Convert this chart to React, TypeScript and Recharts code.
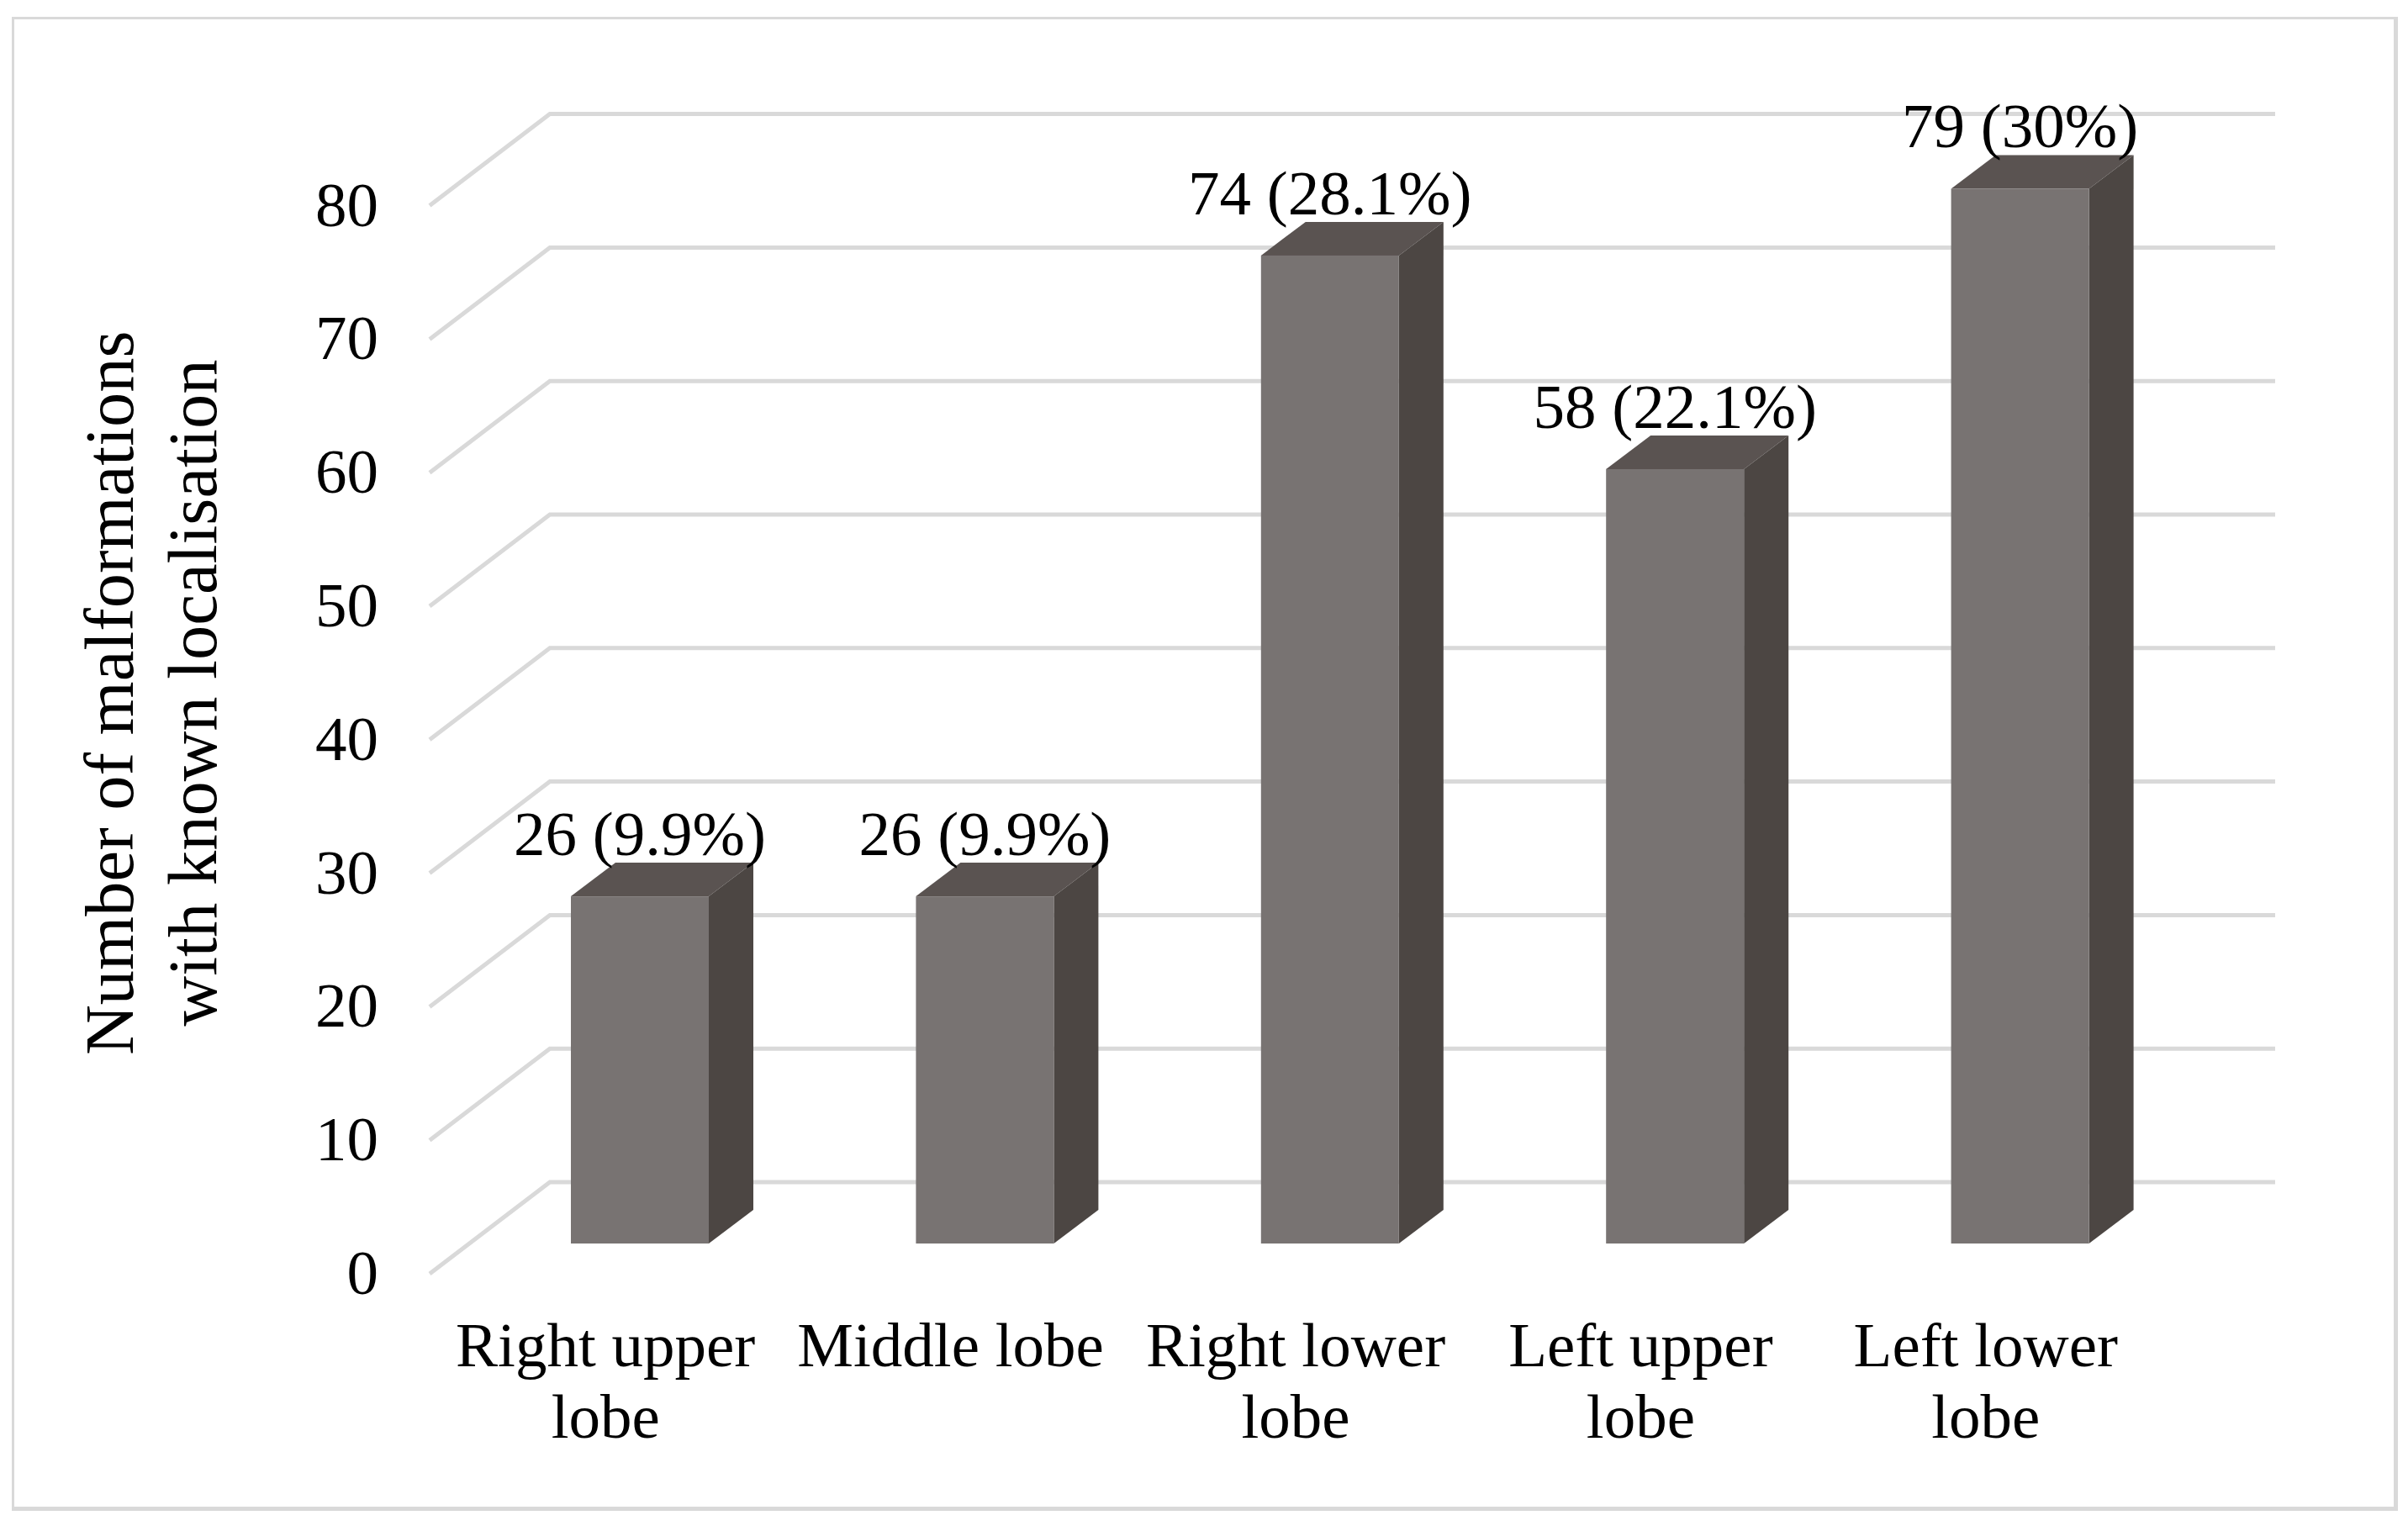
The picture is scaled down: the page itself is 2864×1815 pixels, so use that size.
import React from 'react';
import { Bar, BarChart, CartesianGrid, LabelList, XAxis, YAxis } from 'recharts';

// Data
const categories = ['Right upper\nlobe', 'Middle lobe', 'Right lower\nlobe', 'Left upper\nlobe', 'Left lower\nlobe'];
const counts = [26, 26, 74, 58, 79];
const shares = ['9.9%', '9.9%', '28.1%', '22.1%', '30%'];
const yTicks = [0, 10, 20, 30, 40, 50, 60, 70, 80];
const yTitleLines = ['Number of malformations', 'with known localisation'];

const chartData = categories.map((name, i) => ({ name, count: counts[i], share: shares[i] }));

const FONT = '"Liberation Serif", "Times New Roman", serif';
const FONT_SIZE = 75;
const GRID = '#d9d9d9';

// fake 3D offsets, the bars stand between the front edge of the floor and the back wall
const BAR_DX = 53;
const BAR_DY = 40;
const WALL_DX = 98;
const WALL_DY = 73;
const EDGE_DX = 45;
const EDGE_DY = 36;

const Cuboid = ({ x, y, width, height }: any) => {
  const right = x + width;
  const bottom = y + height;
  return (
    <g>
      <path d={`M${x},${y} L${x + BAR_DX},${y - BAR_DY} L${right + BAR_DX},${y - BAR_DY} L${right},${y} Z`} fill="#5a5351" />
      <path d={`M${right},${y} L${right + BAR_DX},${y - BAR_DY} L${right + BAR_DX},${bottom - BAR_DY} L${right},${bottom} Z`} fill="#4c4643" />
      <rect x={x} y={y} width={width} height={height} fill="#787372" />
    </g>
  );
};

const GridLine = ({ x1, x2, y1 }: any) => (
  <path
    d={`M${x1 - EDGE_DX},${y1 + EDGE_DY} L${x1 + WALL_DX},${y1 - WALL_DY} L${x2 + WALL_DX},${y1 - WALL_DY}`}
    fill="none"
    stroke={GRID}
    strokeWidth={5}
  />
);

const ValueTick = ({ x, y, payload }: any) => (
  <text x={x - 98} y={y + 60} textAnchor="end" fontFamily={FONT} fontSize={FONT_SIZE} fill="#000">
    {payload.value}
  </text>
);

const CategoryTick = ({ x, y, payload }: any) => (
  <text textAnchor="middle" fontFamily={FONT} fontSize={FONT_SIZE} fill="#000">
    {String(payload.value)
      .split('\n')
      .map((line, i) => (
        <tspan key={line} x={x - 41} y={y + 138 + i * 85}>
          {line}
        </tspan>
      ))}
  </text>
);

const BarValue = ({ x, y, width, index }: any) => (
  <text x={x + width / 2} y={y - 49} textAnchor="middle" fontFamily={FONT} fontSize={FONT_SIZE} fill="#000">
    {`${counts[index]} (${shares[index]})`}
  </text>
);

const YTitle = () => (
  <g fontFamily={FONT} fontSize={82.5} fill="#000" textAnchor="middle">
    <text transform="translate(158,824) rotate(-90)">{yTitleLines[0]}</text>
    <text transform="translate(257,824) rotate(-90)">{yTitleLines[1]}</text>
  </g>
);

export default function App() {
  return (
    <div style={{ position: 'absolute', left: 0, top: 0, width: 2864, height: 1815, background: '#fff', overflow: 'hidden' }}>
      <div
        style={{
          position: 'absolute',
          left: 14,
          top: 20,
          width: 2830,
          height: 1769,
          borderStyle: 'solid',
          borderColor: GRID,
          borderWidth: '3px 5px 5px 3px',
        }}
      />
      <BarChart
        width={2864}
        height={1815}
        data={chartData}
        margin={{ top: 208.6, right: 256, bottom: 100, left: 0 }}
        barSize={164}
        style={{ position: 'absolute', left: 0, top: 0 }}
      >
        <CartesianGrid vertical={false} horizontal={(props: any) => <GridLine key={props.y1} {...props} />} />
        <XAxis dataKey="name" interval={0} height={236} axisLine={false} tickLine={false} tick={<CategoryTick />} />
        <YAxis
          width={556}
          domain={[0, 80]}
          ticks={yTicks}
          interval={0}
          axisLine={false}
          tickLine={false}
          tick={<ValueTick />}
          label={{ content: <YTitle /> }}
        />
        <Bar dataKey="count" shape={<Cuboid />} isAnimationActive={false}>
          <LabelList dataKey="count" content={<BarValue />} />
        </Bar>
      </BarChart>
    </div>
  );
}
